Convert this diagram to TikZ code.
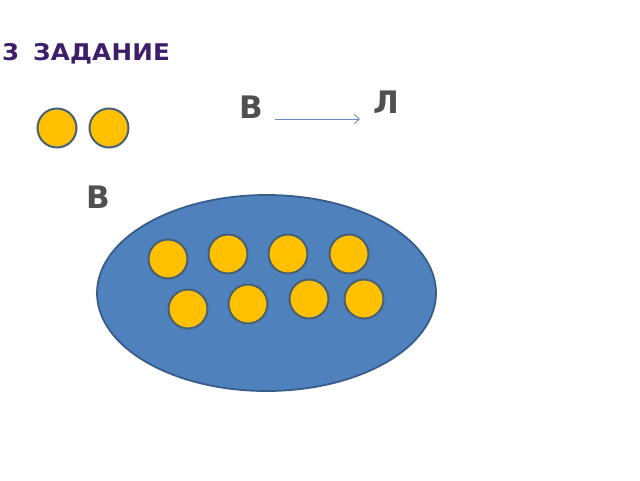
\documentclass[tikz,border=0pt]{standalone}
\usepackage{fontspec}
\setmainfont{DejaVu Sans}
\usetikzlibrary{arrows.meta,positioning,shapes.geometric}
\definecolor{TitlePurple}{RGB}{62,30,104}
\definecolor{LetterGray}{RGB}{80,80,80}
\definecolor{SetBlue}{RGB}{79,129,189}
\definecolor{SetEdge}{RGB}{56,93,138}
\definecolor{BallYellow}{RGB}{255,192,0}
\definecolor{BallEdge}{RGB}{72,96,118}
\definecolor{ArrowBlue}{RGB}{100,140,190}

\begin{document}
\begin{tikzpicture}[
        x=1pt, y=-1pt,
        ball/.style={circle, draw=BallEdge, line width=2pt, fill=BallYellow, minimum size=39pt, inner sep=0pt},
        letter/.style={inner sep=0pt, text=LetterGray, font=\fontsize{31}{31}\selectfont\bfseries},
        arrow/.style={-{Straight Barb[length=5pt, width=9pt]}, line width=0.9pt, draw=ArrowBlue}
      ]
        \useasboundingbox (0,0) rectangle (640,480);
        \node[anchor=base west, inner sep=0pt, text=TitlePurple, font=\fontsize{23}{23}\selectfont\bfseries\addfontfeature{FakeStretch=1.07,LetterSpace=1}] (title) at (2,60) {3\hspace{0.6em}ЗАДАНИЕ};
        % letters and arrow
        \node[letter] (from) at (251,107) {В};
        \node[letter] (to) at (386,102) {Л};
        \coordinate (arrs) at (275,119);
        \coordinate (arre) at (360,119);
        \draw[arrow] (arrs) -- (arre);
        % two balls on the left
        \node[ball] (b1) at (57,128) {};
        \node[ball, right=11pt of b1] (b2) {};
        \node[letter] (setname) at (98,197) {В};
        % the set
        \node[ellipse, draw=SetEdge, line width=1.8pt, fill=SetBlue, minimum width=339pt, minimum height=196pt, inner sep=0pt] (set) at (266.5,293) {};
        \node[ball] (s1) at (168,259) {};
        \node[ball] (s2) at (228,254) {};
        \node[ball] (s3) at (288,254) {};
        \node[ball] (s4) at (349,254) {};
        \node[ball] (s5) at (188,309) {};
        \node[ball] (s6) at (248,304) {};
        \node[ball] (s7) at (309,299) {};
        \node[ball] (s8) at (364,299) {};
      \end{tikzpicture}
\end{document}
